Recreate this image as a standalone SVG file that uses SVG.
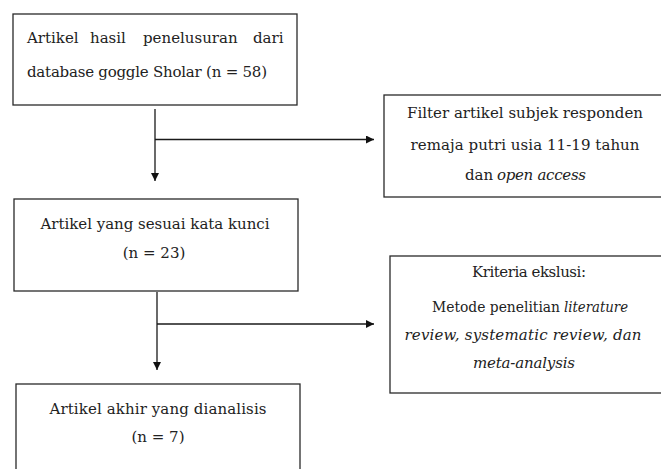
<svg xmlns="http://www.w3.org/2000/svg" width="661" height="469" viewBox="0 0 661 469">
<style>
.box{fill:#fff;stroke:#2a2a2a;stroke-width:1.3}
.t{font-family:"DejaVu Serif","Liberation Serif",serif;font-size:15px;fill:#222}
.c{text-anchor:middle}
.i{font-style:italic}
.ln{fill:none;stroke:#1a1a1a;stroke-width:1.3}
</style>
<defs>
<marker id="ah" viewBox="0 0 10 10" refX="10" refY="5" markerWidth="10" markerHeight="8" markerUnits="userSpaceOnUse" orient="auto">
<path d="M0,0 L10,5 L0,10 Z" fill="#111"/>
</marker>
</defs>
<rect width="661" height="469" fill="#fff"/>
<g id="n1">
<rect class="box" x="13" y="14" width="284" height="91"/>
<text class="t" y="43"><tspan x="27">Artikel</tspan><tspan x="90">hasil</tspan><tspan x="143">penelusuran</tspan><tspan x="253">dari</tspan></text>
<text class="t" x="27" y="77" textLength="240" lengthAdjust="spacing">database goggle Sholar (n = 58)</text>
</g>
<g id="n2">
<rect class="box" x="384" y="95" width="285" height="102"/>
<text class="t c" x="525" y="118" textLength="236" lengthAdjust="spacing">Filter artikel subjek responden</text>
<text class="t c" x="525" y="150" textLength="229" lengthAdjust="spacing">remaja putri usia 11-19 tahun</text>
<text class="t" x="465" y="180">dan</text>
<text class="t i" x="497" y="180" textLength="89" lengthAdjust="spacing">open access</text>
</g>
<g id="n3">
<rect class="box" x="14" y="199" width="284" height="92"/>
<text class="t c" x="155" y="229" textLength="229" lengthAdjust="spacing">Artikel yang sesuai kata kunci</text>
<text class="t c" x="154" y="258">(n = 23)</text>
</g>
<g id="n4">
<rect class="box" x="16" y="384" width="284" height="95"/>
<text class="t c" x="158" y="414" textLength="217" lengthAdjust="spacing">Artikel akhir yang dianalisis</text>
<text class="t c" x="158" y="442">(n = 7)</text>
</g>
<g id="n5">
<rect class="box" x="390" y="256" width="279" height="137"/>
<text class="t c" x="529" y="277" textLength="114" lengthAdjust="spacing">Kriteria ekslusi:</text>
<text class="t" x="432" y="312" textLength="128" lengthAdjust="spacingAndGlyphs">Metode penelitian</text>
<text class="t i" x="564" y="312" textLength="64" lengthAdjust="spacingAndGlyphs">literature</text>
<text class="t c i" x="523" y="340" textLength="237" lengthAdjust="spacing">review, systematic review, dan</text>
<text class="t c i" x="524" y="368" textLength="102" lengthAdjust="spacing">meta-analysis</text>
</g>
<g id="connectors">
<line class="ln" x1="155" y1="109" x2="155" y2="181" marker-end="url(#ah)"/>
<line class="ln" x1="155" y1="139.5" x2="374" y2="139.5" marker-end="url(#ah)"/>
<line class="ln" x1="157" y1="292" x2="157" y2="370" marker-end="url(#ah)"/>
<line class="ln" x1="157" y1="324" x2="374" y2="324" marker-end="url(#ah)"/>
</g>
</svg>
